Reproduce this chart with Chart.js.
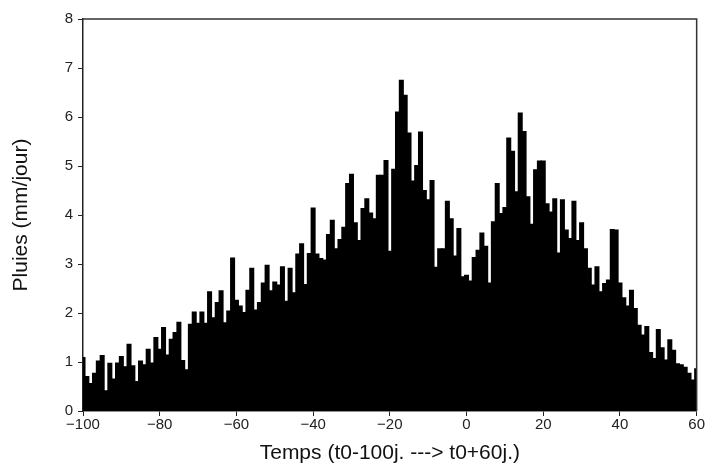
<!DOCTYPE html>
<html>
<head>
<meta charset="utf-8">
<script src="https://cdn.jsdelivr.net/npm/chart.js@4"></script>
<style>
  html, body { margin: 0; padding: 0; background: #fff; }
  #wrap { width: 705px; height: 470px; }
</style>
</head>
<body>
<div id="wrap"><canvas id="chart"></canvas></div>
<script>
// days from t0-100 to t0+60
const firstDay = -100;
const rain = [
  1.09, 0.70, 0.56, 0.77, 1.02, 1.13, 0.41, 0.97, 0.65, 0.98,
  1.11, 0.90, 1.36, 0.92, 0.60, 1.02, 0.94, 1.26, 0.98, 1.50,
  1.26, 1.70, 1.14, 1.46, 1.60, 1.81, 1.03, 0.84, 1.77, 2.02,
  1.79, 2.02, 1.79, 2.43, 1.90, 2.21, 2.45, 1.80, 2.04, 3.12,
  2.26, 2.14, 2.01, 2.46, 2.91, 2.06, 2.21, 2.61, 2.97, 2.45,
  2.63, 2.57, 2.94, 2.24, 2.91, 2.41, 3.20, 3.41, 2.58, 3.21,
  4.14, 3.20, 3.11, 3.08, 3.60, 3.89, 3.31, 3.50, 3.75, 4.64,
  4.83, 3.84, 3.48, 4.13, 4.33, 4.04, 3.92, 4.81, 4.81, 5.11,
  3.26, 4.93, 6.10, 6.75, 6.44, 5.67, 4.69, 5.01, 5.69, 4.50,
  4.31, 4.70, 2.93, 3.31, 3.31, 4.28, 3.92, 3.16, 3.72, 2.74,
  2.77, 2.65, 3.13, 3.28, 3.63, 3.36, 2.61, 3.86, 4.64, 4.03,
  4.15, 5.57, 5.30, 4.47, 6.08, 5.70, 4.37, 3.81, 4.92, 5.10,
  5.10, 4.23, 4.06, 4.33, 3.22, 4.31, 3.69, 3.52, 4.28, 3.48,
  3.84, 3.31, 2.91, 2.57, 2.94, 2.43, 2.60, 2.67, 3.70, 3.69,
  2.61, 2.31, 2.14, 2.46, 2.09, 1.75, 1.55, 1.72, 1.19, 1.07,
  1.66, 1.29, 1.04, 1.45, 1.24, 0.96, 0.94, 0.89, 0.77, 0.63,
  0.86
];
const days = rain.map((v, i) => firstDay + i);
const xTicks = [-100, -80, -60, -40, -20, 0, 20, 40, 60];
const yTicks = [0, 1, 2, 3, 4, 5, 6, 7, 8];

const points = days.map((d, i) => ({ x: d, y: rain[i] }));

const font = "'Liberation Sans', 'DejaVu Sans', sans-serif";

// top and right frame lines
const frame = {
  id: "frame",
  afterDraw(chart) {
    const { ctx, chartArea } = chart;
    ctx.save();
    ctx.strokeStyle = "#333";
    ctx.lineWidth = 1.5;
    ctx.beginPath();
    ctx.moveTo(chartArea.left, chartArea.top);
    ctx.lineTo(chartArea.right, chartArea.top);
    ctx.lineTo(chartArea.right, chartArea.bottom);
    ctx.stroke();
    ctx.restore();
  }
};

new Chart(document.getElementById("chart"), {
  type: "bar",
  data: {
    datasets: [{
      data: points,
      backgroundColor: "#000",
      borderWidth: 0,
      inflateAmount: 0.6,
      barPercentage: 1,
      categoryPercentage: 1,
      clip: 0
    }]
  },
  options: {
    responsive: true,
    maintainAspectRatio: false,
    animation: false,
    layout: { padding: { top: 19, right: 8, left: 0, bottom: 0 } },
    plugins: { legend: { display: false }, tooltip: { enabled: false } },
    scales: {
      x: {
        type: "linear",
        min: -100,
        max: 60,
        offset: false,
        afterBuildTicks: (s) => { s.ticks = xTicks.map(v => ({ value: v })); },
        afterFit: (s) => { s.height = 59; },
        grid: { offset: false, drawOnChartArea: false, drawTicks: true, tickLength: 5, color: "#222", lineWidth: 1 },
        border: { display: true, color: "#222", width: 1.5 },
        ticks: {
          color: "#222",
          font: { family: font, size: 15 },
          padding: 0,
          maxRotation: 0,
          callback: (v) => String(v).replace("-", "\u2212")
        },
        title: {
          display: true,
          text: "Temps (t0-100j. ---> t0+60j.)",
          color: "#111",
          font: { family: font, size: 21 },
          padding: { top: 4 }
        }
      },
      y: {
        min: 0,
        max: 8,
        afterBuildTicks: (s) => { s.ticks = yTicks.map(v => ({ value: v })); },
        afterFit: (s) => { s.width = 83; },
        grid: { drawOnChartArea: false, drawTicks: true, tickLength: 5, color: "#222", lineWidth: 1 },
        border: { display: true, color: "#222", width: 1.5 },
        ticks: {
          color: "#222",
          font: { family: font, size: 15 },
          padding: 5
        },
        title: {
          display: true,
          text: "Pluies (mm/jour)",
          color: "#111",
          font: { family: font, size: 21 },
          padding: { top: 9, bottom: 10 }
        }
      }
    }
  },
  plugins: [frame]
});
</script>
</body>
</html>
